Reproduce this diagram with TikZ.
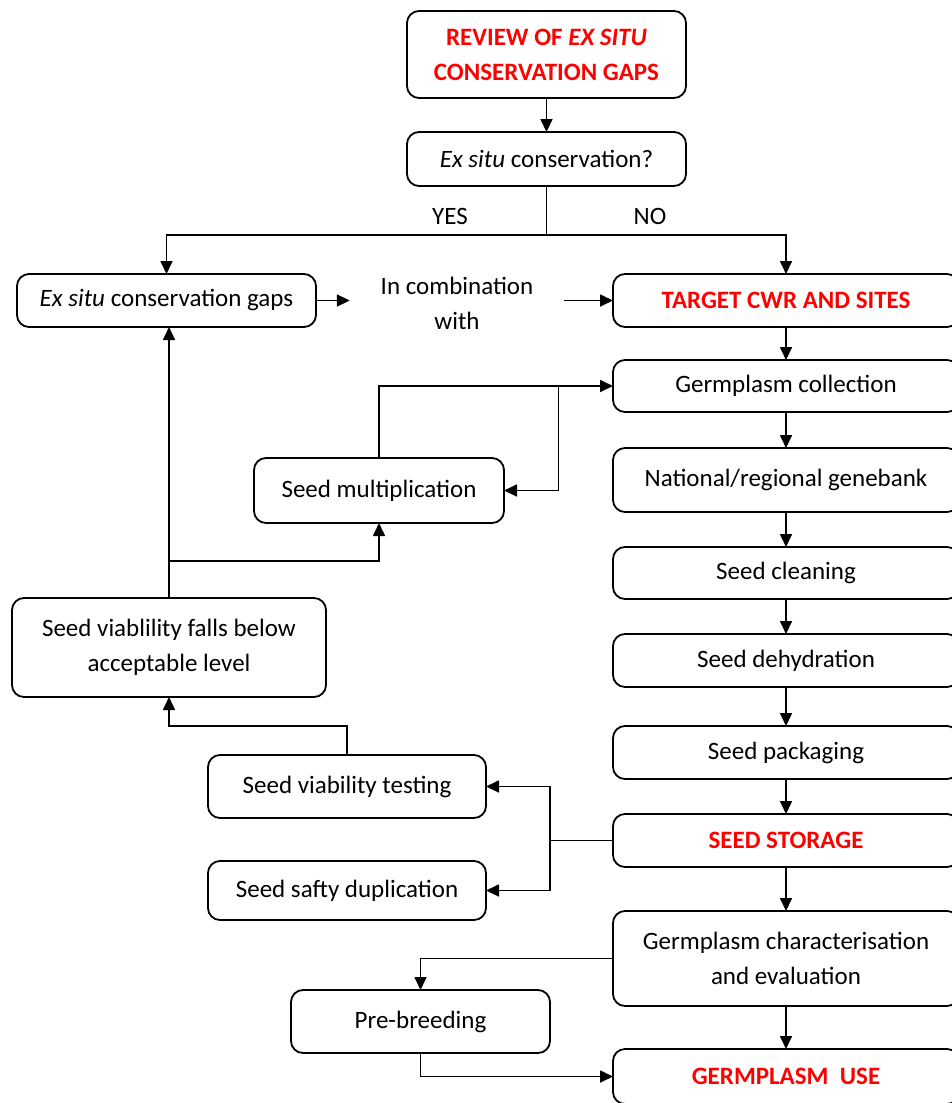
\documentclass[tikz,border=0pt]{standalone}
\usepackage{fontspec}
\setmainfont{Carlito}
\usetikzlibrary{arrows.meta}
\definecolor{cred}{RGB}{255,0,0}
\begin{document}
\begin{tikzpicture}[x=1pt,y=-1pt,
  font=\fontsize{25}{35}\selectfont,
  box/.style={draw, rounded corners=12pt, line width=1.8pt, align=center, inner sep=0pt, outer sep=0pt},
  hot/.style={text=cred, font=\fontsize{25}{35}\selectfont\bfseries},
  arr/.style={-{Triangle[length=13pt,width=12pt]}, line width=1.7pt},
  ln/.style={line width=1.7pt}]
\useasboundingbox (0,0) rectangle (952,1103);
\clip (0,0) rectangle (952,1103);
% top
\node[box, hot, minimum width=279pt, minimum height=87pt] (review) at (546.5,54.5) {REVIEW OF \textit{EX SITU}\\CONSERVATION GAPS};
\node[box, minimum width=279pt, minimum height=54pt] (q) at (546.5,159) {\textit{Ex situ} conservation?};
\node (yes) at (450,216) {YES};
\node (no) at (650,216) {NO};
\node[box, minimum width=299pt, minimum height=53pt] (gaps) at (166.5,300.5) {\textit{Ex situ} conservation gaps};
\node[align=center, minimum width=214pt, inner sep=0pt] (comb) at (457,303) {In combination\\with};
% right column
\node[box, hot, minimum width=346pt, minimum height=53pt] (target) at (786,300.5) {TARGET CWR AND SITES};
\node[box, minimum width=346pt, minimum height=52pt] (coll) at (786,386) {Germplasm collection};
\node[box, minimum width=346pt, minimum height=64pt] (nat) at (786,480) {National/regional genebank};
\node[box, minimum width=346pt, minimum height=52pt] (clean) at (786,573) {Seed cleaning};
\node[box, minimum width=346pt, minimum height=53pt] (dehyd) at (786,660.5) {Seed dehydration};
\node[box, minimum width=346pt, minimum height=53pt] (pack) at (786,752.5) {Seed packaging};
\node[box, hot, minimum width=346pt, minimum height=53pt] (store) at (786,840.5) {SEED STORAGE};
\node[box, minimum width=346pt, minimum height=95pt] (char) at (786,958.5) {Germplasm characterisation\\and evaluation};
\node[box, hot, minimum width=346pt, minimum height=55pt] (use) at (786,1076.5) {GERMPLASM\ \ USE};
% left side
\node[box, minimum width=250pt, minimum height=65pt] (mult) at (379,490.5) {Seed multiplication};
\node[box, minimum width=314pt, minimum height=99pt] (viab) at (169,647.5) {Seed viablility falls below\\acceptable level};
\node[box, minimum width=278pt, minimum height=63pt] (test) at (347,786.5) {Seed viability testing};
\node[box, minimum width=278pt, minimum height=59pt] (dup) at (347,890.5) {Seed safty duplication};
\node[box, minimum width=259pt, minimum height=63pt] (pre) at (420.5,1021.5) {Pre-breeding};
% junctions
\coordinate (split) at (546.5,235);
\coordinate (j1) at (558.5,386);
\coordinate (j2) at (169,561);
\coordinate (j3) at (347,726);
\coordinate (j4) at (550,840.5);
% connectors
\draw[arr] (review) -- (q);
\draw[ln] (q.south) -- (split);
\draw[arr] (split) -| (gaps.north);
\draw[arr] (split) -| (target.north);
\draw[arr] (gaps.east) -- (gaps.east -| comb.west);
\draw[arr] (target.west -| comb.east) -- (target.west);
\draw[arr] (target) -- (coll);
\draw[arr] (coll) -- (nat);
\draw[arr] (nat) -- (clean);
\draw[arr] (clean) -- (dehyd);
\draw[arr] (dehyd) -- (pack);
\draw[arr] (pack) -- (store);
\draw[arr] (store) -- (char);
\draw[arr] (char) -- (use);
\draw[arr] (mult.north) |- (coll.west);
\draw[arr] (j1) |- (mult.east);
\draw[arr] (viab.north) -- (viab.north |- gaps.south);
\draw[arr] (j2) -| (mult.south);
\draw[arr] (test.north) -- (j3) -| (viab.south);
\draw[ln] (store.west) -- (j4);
\draw[arr] (j4) |- (test.east);
\draw[arr] (j4) |- (dup.east);
\draw[arr] (char.west) -| (pre.north);
\draw[arr] (pre.south) |- (use.west);
\end{tikzpicture}
\end{document}
